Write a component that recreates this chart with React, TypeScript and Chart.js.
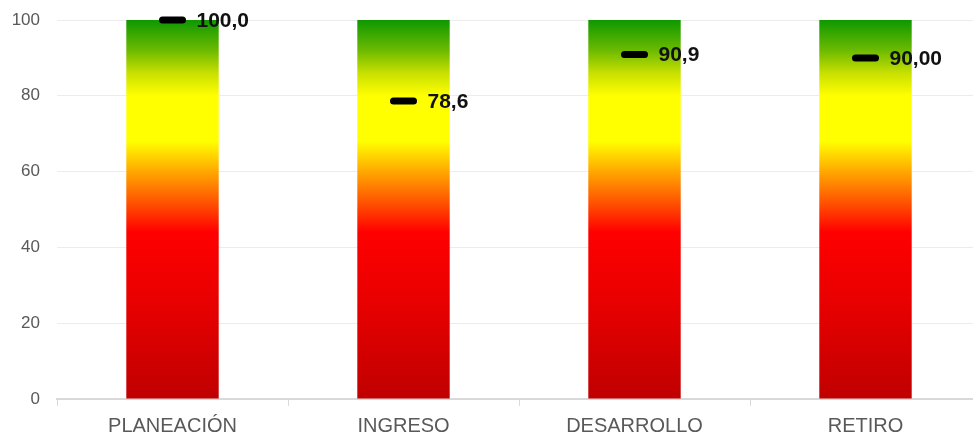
import React, { useEffect, useRef } from "react";
import { Chart, registerables } from "chart.js";

Chart.register(...registerables);

const categories = ["PLANEACIÓN", "INGRESO", "DESARROLLO", "RETIRO"];
const barValues = [100, 100, 100, 100];
const resultValues = [100, 78.6, 90.9, 90];
const resultLabels = ["100,0", "78,6", "90,9", "90,00"];
const yTicks = [0, 20, 40, 60, 80, 100];

const FONT = "'Liberation Sans', Arial, sans-serif";

const markerCapPlugin = {
  id: "markerCap",
  beforeDatasetDraw(chart: any, args: any) {
    if (args.index === 1) chart.ctx.lineCap = "round";
  },
  afterDatasetDraw(chart: any, args: any) {
    if (args.index === 1) chart.ctx.lineCap = "butt";
  },
};

const valueLabelPlugin = {
  id: "valueLabels",
  afterDatasetsDraw(chart: any) {
    const meta = chart.getDatasetMeta(1);
    const ctx = chart.ctx;
    ctx.save();
    ctx.font = "bold 21px " + FONT;
    ctx.fillStyle = "#111111";
    ctx.textAlign = "left";
    ctx.textBaseline = "middle";
    meta.data.forEach((pt: any, i: number) => {
      ctx.fillText(resultLabels[i], pt.x + 24, pt.y + 1);
    });
    ctx.restore();
  },
};

function makeGradient(chart: any) {
  const area = chart.chartArea;
  const y = chart.scales.y;
  if (!area || !y) return "#ff0000";
  const y0 = y.getPixelForValue(0);
  const y1 = y.getPixelForValue(100);
  const g = chart.ctx.createLinearGradient(0, y0, 0, y1);
  g.addColorStop(0, "#c00000");
  g.addColorStop(0.25, "#e80000");
  g.addColorStop(0.44, "#ff0000");
  g.addColorStop(0.52, "#ff5500");
  g.addColorStop(0.6, "#ffa800");
  g.addColorStop(0.68, "#ffff00");
  g.addColorStop(0.8, "#ffff00");
  g.addColorStop(0.86, "#c8e000");
  g.addColorStop(0.92, "#6cba00");
  g.addColorStop(1, "#0e9800");
  return g;
}

export default function App() {
  const ref = useRef<HTMLCanvasElement>(null);
  useEffect(() => {
    if (!ref.current) return;
    const chart = new Chart(ref.current, {
      type: "bar",
      data: {
        labels: categories,
        datasets: [
          {
            type: "bar",
            data: barValues,
            backgroundColor: (c: any) => makeGradient(c.chart),
            borderWidth: 0,
            barPercentage: 0.4,
            categoryPercentage: 1,
            order: 2,
          } as any,
          {
            type: "line",
            data: resultValues,
            showLine: false,
            pointStyle: "line",
            pointRadius: 10,
            pointHoverRadius: 10,
            pointBorderWidth: 7,
            pointBorderColor: "#000000",
            pointBackgroundColor: "#000000",
            borderColor: "#000000",
            clip: false,
            order: 1,
          } as any,
        ],
      },
      options: {
        animation: false,
        responsive: false,
        layout: {
          autoPadding: false,
          padding: { top: 20, right: 0, bottom: 4, left: 0 },
        },
        plugins: { legend: { display: false }, tooltip: { enabled: false } },
        scales: {
          x: {
            offset: true,
            afterFit: (s: any) => {
              s.height = 33;
              s.paddingLeft = 0;
              s.paddingRight = 0;
            },
            grid: {
              offset: true,
              drawOnChartArea: false,
              drawTicks: true,
              tickLength: 7,
              color: "#d9d9d9",
            },
            border: { display: true, color: "#d9d9d9", width: 2 },
            ticks: {
              color: "#595959",
              font: { family: FONT, size: 20 },
              padding: 8,
            },
          },
          y: {
            min: 0,
            max: 100,
            afterBuildTicks: (s: any) => {
              s.ticks = yTicks.map((v) => ({ value: v }));
            },
            afterFit: (s: any) => {
              s.width = 57;
              s.paddingTop = 0;
              s.paddingBottom = 0;
            },
            grid: { color: "#ececec", drawTicks: false },
            border: { display: false },
            ticks: {
              color: "#595959",
              font: { family: FONT, size: 17 },
              padding: 17,
            },
          },
        },
      },
      plugins: [markerCapPlugin, valueLabelPlugin],
    });
    return () => chart.destroy();
  }, []);
  return (
    <div
      style={{
        position: "absolute",
        left: 0,
        top: 0,
        width: 973,
        height: 436,
        overflow: "hidden",
        background: "#fff",
      }}
    >
      <canvas ref={ref} width={981} height={436} style={{ display: "block" }} />
    </div>
  );
}
